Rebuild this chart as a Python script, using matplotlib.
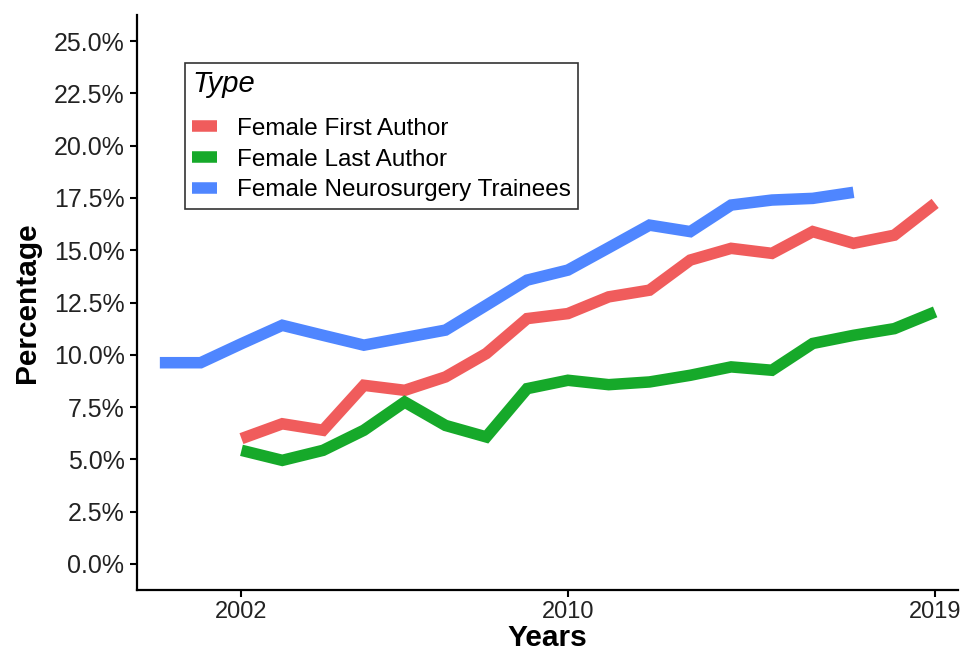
import numpy as np
import matplotlib
matplotlib.use('Agg')
import matplotlib.pyplot as plt
from matplotlib.lines import Line2D
from matplotlib.ticker import PercentFormatter

plt.rcParams['font.family'] = ['Liberation Sans', 'DejaVu Sans']

# Percent of female authors / trainees per year
author_years = np.arange(2002, 2020)
first_author = [5.99, 6.70, 6.39, 8.54, 8.30, 8.94, 10.06, 11.73, 11.97, 12.77,
                13.09, 14.53, 15.09, 14.85, 15.89, 15.33, 15.72, 17.24]
last_author = [5.43, 4.95, 5.43, 6.39, 7.74, 6.62, 6.07, 8.38, 8.78, 8.57,
               8.70, 9.02, 9.42, 9.26, 10.54, 10.93, 11.25, 12.05]

trainee_years = np.arange(2000, 2018)
trainees = [9.62, 9.62, 10.53, 11.41, 10.93, 10.46, 10.82, 11.18, 12.37, 13.57,
            14.05, 15.12, 16.20, 15.89, 17.16, 17.40, 17.48, 17.77]

labels = ['Female First Author', 'Female Last Author', 'Female Neurosurgery Trainees']
colors = ['#F05C5C', '#16A92A', '#4F86FF']

fig = plt.figure(figsize=(9.63, 6.52), dpi=100)
ax = fig.add_axes([137 / 963, 62 / 652, 821 / 963, 575 / 652])

lw = 8.3
ax.plot(author_years, first_author, color=colors[0], lw=lw, solid_capstyle='butt', solid_joinstyle='miter')
ax.plot(author_years, last_author, color=colors[1], lw=lw, solid_capstyle='butt', solid_joinstyle='miter')
ax.plot(trainee_years, trainees, color=colors[2], lw=lw, solid_capstyle='butt', solid_joinstyle='miter')

ax.set_xlim(1999.44, 2019.56)
ax.set_ylim(-1.25, 26.25)
ax.set_xticks([2002, 2010, 2019])
ax.set_yticks(np.arange(0, 25.1, 2.5))
ax.yaxis.set_major_formatter(PercentFormatter(decimals=1))

for s in ['top', 'right']:
    ax.spines[s].set_visible(False)
for s in ['left', 'bottom']:
    ax.spines[s].set_linewidth(1.6)
ax.tick_params(axis='both', length=5, width=1.5, colors='black', labelcolor='#222222')
ax.tick_params(axis='y', labelsize=18, pad=4)
ax.tick_params(axis='x', labelsize=17, pad=3)

ax.set_xlabel('Years', fontsize=21.5, fontweight='bold', labelpad=1)
ax.set_ylabel('Percentage', fontsize=21.5, fontweight='bold', labelpad=9)

handles = [Line2D([], [], color=c, lw=lw, solid_capstyle='butt') for c in colors]
leg = ax.legend(handles, labels, title='Type', loc='upper left',
                bbox_to_anchor=(0.0585, 0.9165), fontsize=17.5,
                title_fontproperties={'size': 21, 'style': 'italic'},
                frameon=True, fancybox=False, edgecolor='black',
                handlelength=1.0, handletextpad=0.85, labelspacing=0.36,
                borderpad=0.3, alignment='left', borderaxespad=0)
leg.get_frame().set_linewidth(1.2)
# wider gap between the title and the entries, as in the reference
leg._legend_box.sep = 14

fig.savefig('out.png', dpi=100)
